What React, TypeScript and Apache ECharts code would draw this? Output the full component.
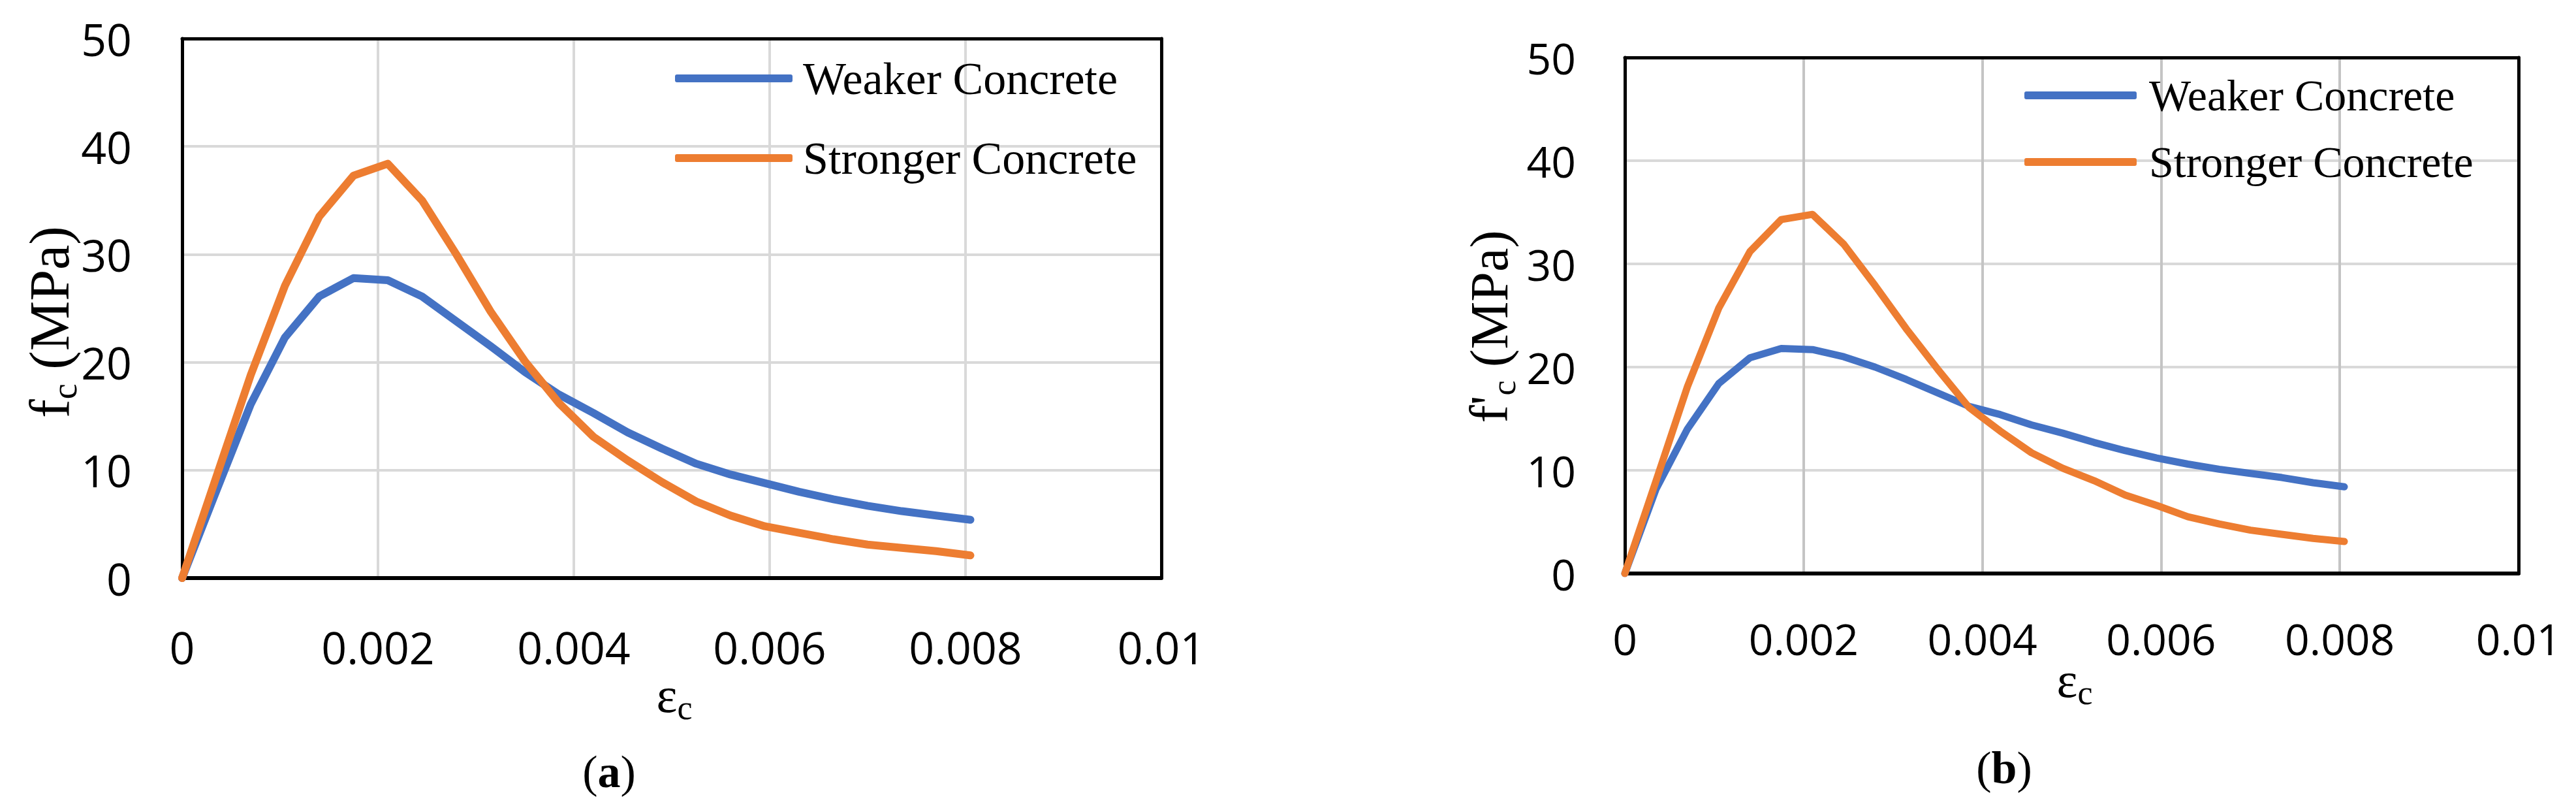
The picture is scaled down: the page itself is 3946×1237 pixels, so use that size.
import React, { useEffect, useRef } from "react";
import * as echarts from "echarts";

// Strain values (shared by both panels)
const strain = [
  0, 0.00035, 0.0007, 0.00105, 0.0014, 0.00175, 0.0021, 0.00245, 0.0028, 0.00315,
  0.0035, 0.00385, 0.0042, 0.00455, 0.0049, 0.00525, 0.0056, 0.00595, 0.0063,
  0.00665, 0.007, 0.00735, 0.0077, 0.00805,
];

// Panel (a)
const weakerA = [
  0, 8.1, 16.1, 22.3, 26.1, 27.8, 27.6, 26.1, 23.8, 21.5, 19.1, 17.0, 15.3, 13.5,
  12.0, 10.6, 9.6, 8.8, 8.0, 7.3, 6.7, 6.2, 5.8, 5.4,
];
const strongerA = [
  0, 9.4, 18.8, 27.1, 33.5, 37.3, 38.4, 35.0, 30.0, 24.7, 20.1, 16.2, 13.1, 10.9,
  8.9, 7.1, 5.8, 4.8, 4.2, 3.6, 3.1, 2.8, 2.5, 2.1,
];

// Panel (b)
const weakerB = [
  0, 8.2, 14.0, 18.4, 20.9, 21.8, 21.7, 21.0, 20.0, 18.8, 17.5, 16.2, 15.4, 14.4,
  13.6, 12.7, 11.9, 11.2, 10.6, 10.1, 9.7, 9.3, 8.8, 8.4,
];
const strongerB = [
  0, 9.0, 18.1, 25.7, 31.2, 34.3, 34.8, 31.9, 27.9, 23.7, 19.8, 16.1, 13.8, 11.7,
  10.2, 9.0, 7.6, 6.6, 5.5, 4.8, 4.2, 3.8, 3.4, 3.1,
];

const seriesNames = ["Weaker Concrete", "Stronger Concrete"];
const xTickLabels = ["0", "0.002", "0.004", "0.006", "0.008", "0.01"];
const yTickLabels = ["0", "10", "20", "30", "40", "50"];

const BLUE = "#4472C4";
const ORANGE = "#ED7D31";
const SANS = '"Open Sans", "Liberation Sans", sans-serif';
const SERIF = '"Liberation Serif", "Times New Roman", serif';

function pairs(ys: number[]) {
  return strain.map((s, i) => [s, ys[i]]);
}

function makeX(gridIndex: number, fontSize: number, margin: number, vColor: string) {
  return {
    type: "value",
    gridIndex,
    min: 0,
    max: 0.01,
    interval: 0.002,
    axisLine: { show: true, onZero: false, lineStyle: { color: "#000", width: 6 } },
    axisTick: { show: false },
    splitLine: { show: true, lineStyle: { color: vColor, width: 4 } },
    axisLabel: {
      margin,
      color: "#000",
      fontSize,
      fontFamily: SANS,
      formatter: (v: number) => xTickLabels[Math.round(v / 0.002)] ?? String(v),
    },
  };
}

function makeY(gridIndex: number, fontSize: number, margin: number) {
  return {
    type: "value",
    gridIndex,
    min: 0,
    max: 50,
    interval: 10,
    axisLine: { show: true, onZero: false, lineStyle: { color: "#000", width: 5 } },
    axisTick: { show: false },
    splitLine: { show: true, lineStyle: { color: "#d9d9d9", width: 4 } },
    axisLabel: {
      margin,
      color: "#000",
      fontSize,
      fontFamily: SANS,
      formatter: (v: number) => yTickLabels[Math.round(v / 10)] ?? String(v),
    },
  };
}

// Frame-only axes (top / right borders of the plot box)
function frameX(gridIndex: number) {
  return {
    type: "value",
    gridIndex,
    position: "top",
    min: 0,
    max: 0.01,
    interval: 0.002,
    axisLine: { show: true, onZero: false, lineStyle: { color: "#000", width: 5 } },
    axisTick: { show: false },
    axisLabel: { show: false },
    splitLine: { show: false },
  };
}
function frameY(gridIndex: number) {
  return {
    type: "value",
    gridIndex,
    position: "right",
    min: 0,
    max: 50,
    interval: 10,
    axisLine: { show: true, onZero: false, lineStyle: { color: "#000", width: 5 } },
    axisTick: { show: false },
    axisLabel: { show: false },
    splitLine: { show: false },
  };
}

function lineSeries(name: string, color: string, data: number[][], idx: number, width: number) {
  return {
    type: "line",
    name,
    xAxisIndex: idx,
    yAxisIndex: idx,
    data,
    symbol: "none",
    showSymbol: false,
    smooth: false,
    color,
    z: 5,
    lineStyle: { color, width, cap: "round", join: "round" },
  };
}

function legend(left: number, top: number, itemWidth: number, gap: number, fontSize: number, lh: number, padLeft: number) {
  return {
    orient: "vertical",
    left,
    top,
    padding: 0,
    itemWidth,
    itemHeight: 12,
    itemGap: gap,
    icon: "roundRect",
    selectedMode: false,
    data: seriesNames,
    textStyle: {
      fontFamily: SERIF,
      fontSize,
      color: "#000",
      lineHeight: lh,
      padding: [0, 0, 0, padLeft],
    },
  };
}

function yTitle(x: number, y: number, prime: boolean, fs: number) {
  return {
    type: "text",
    x,
    y,
    rotation: Math.PI / 2,
    style: {
      text: `{m|${prime ? "f'" : "f"}}{s|c}{m| (MPa)}`,
      align: "center",
      verticalAlign: "middle",
      fill: "#000",
      rich: {
        m: { fontFamily: SERIF, fontSize: fs, lineHeight: fs + 14, verticalAlign: "middle", fill: "#000" },
        s: { fontFamily: SERIF, fontSize: Math.round(fs * 0.63), lineHeight: Math.round(fs * 0.5), verticalAlign: "bottom", fill: "#000" },
      },
    },
  };
}

function xTitle(x: number, y: number) {
  return {
    type: "text",
    x,
    y,
    style: {
      text: "{m|ε}{s|c}",
      align: "center",
      verticalAlign: "middle",
      fill: "#000",
      rich: {
        m: { fontFamily: SERIF, fontSize: 76, lineHeight: 90, verticalAlign: "middle", fill: "#000" },
        s: { fontFamily: SERIF, fontSize: 52, lineHeight: 40, verticalAlign: "bottom", fill: "#000" },
      },
    },
  };
}

function caption(x: number, y: number, letter: string) {
  return {
    type: "text",
    x,
    y,
    style: {
      text: `{n|(}{b|${letter}}{n|)}`,
      align: "center",
      verticalAlign: "middle",
      fill: "#000",
      rich: {
        n: { fontFamily: SERIF, fontSize: 70, fill: "#000" },
        b: { fontFamily: SERIF, fontSize: 70, fontWeight: "bold", fill: "#000" },
      },
    },
  };
}

export default function App() {
  const ref = useRef<HTMLDivElement>(null);

  useEffect(() => {
    document.body.style.margin = "0";
    document.body.style.overflow = "hidden";
    if (!ref.current) return;
    const chart = echarts.init(ref.current, undefined, { renderer: "svg" });
    const option = {
      animation: false,
      backgroundColor: "#ffffff",
      grid: [
        { left: 279, top: 59, width: 1500, height: 826, show: false },
        { left: 2489, top: 88, width: 1369, height: 790, show: false },
      ],
      xAxis: [makeX(0, 68, 71, "#d9d9d9"), makeX(1, 66, 66, "#c4c4c4"), frameX(0), frameX(1)],
      yAxis: [makeY(0, 68, 77), makeY(1, 66, 75), frameY(0), frameY(1)],
      legend: [
        legend(1034, 80, 180, 42, 70, 80, 11),
        legend(3101, 107, 172, 24, 68, 78, 14),
      ],
      series: [
        lineSeries(seriesNames[0], BLUE, pairs(weakerA), 0, 12),
        lineSeries(seriesNames[1], ORANGE, pairs(strongerA), 0, 12),
        lineSeries(seriesNames[0], BLUE, pairs(weakerB), 1, 11),
        lineSeries(seriesNames[1], ORANGE, pairs(strongerB), 1, 11),
      ],
      graphic: [
        yTitle(76, 493, false, 86),
        yTitle(2281, 500, true, 82),
        xTitle(1033, 1064),
        xTitle(3178, 1041),
        caption(933, 1181, "a"),
        caption(3070, 1175, "b"),
      ],
    };
    chart.setOption(option as any);
    return () => chart.dispose();
  }, []);

  return (
    <div
      ref={ref}
      style={{ position: "absolute", left: 0, top: 0, width: 3946, height: 1237, background: "#fff" }}
    />
  );
}
